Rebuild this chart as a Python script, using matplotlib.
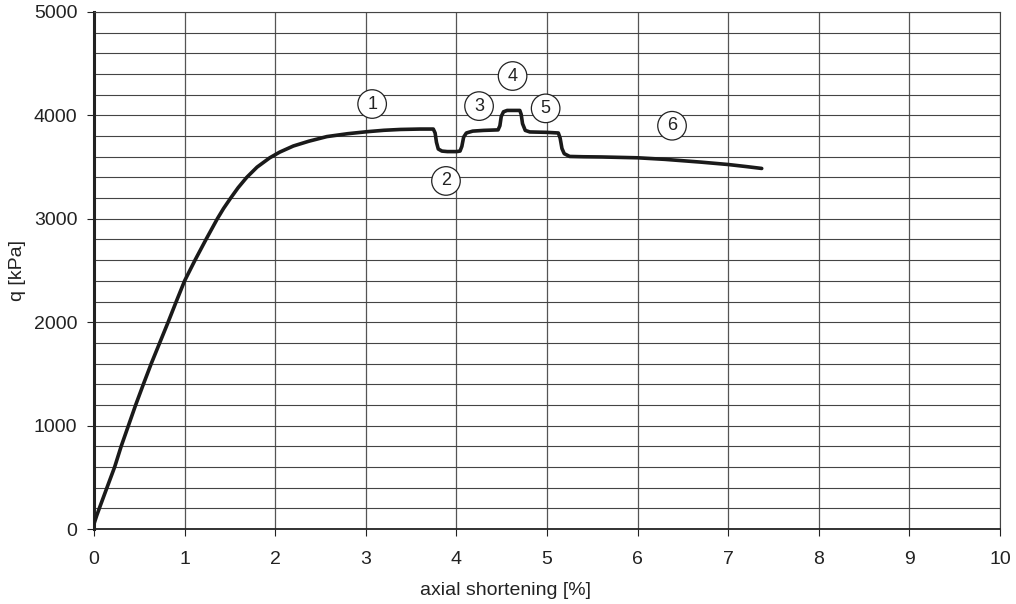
import matplotlib
matplotlib.use("Agg")
import matplotlib.pyplot as plt
import numpy as np

# curve data
strain = [0.0, 0.03, 0.063, 0.147, 0.228, 0.30, 0.38, 0.46, 0.545, 0.632, 0.725,
          0.818, 0.908, 1.0, 1.115, 1.236, 1.361, 1.43, 1.508, 1.59, 1.685,
          1.80, 1.94, 2.05, 2.2, 2.37, 2.57, 2.8, 3.01, 3.2, 3.38, 3.6, 3.745,
          3.765, 3.78, 3.80, 3.84, 3.9, 4.0, 4.04, 4.06, 4.08, 4.11, 4.18,
          4.3, 4.46, 4.48, 4.495, 4.52, 4.56, 4.70, 4.715, 4.73, 4.76, 4.81,
          5.0, 5.125, 5.145, 5.165, 5.19, 5.25, 5.4, 5.6, 6.0, 6.3, 6.7,
          7.0, 7.2, 7.37]
q = [50, 130, 210, 409, 600, 800, 1000, 1200, 1400, 1600, 1800,
     2000, 2200, 2400, 2600, 2800, 3000, 3100, 3200, 3300, 3400,
     3500, 3590, 3645, 3704, 3750, 3795, 3823, 3842, 3856, 3864, 3868, 3868,
     3830, 3740, 3675, 3655, 3650, 3650, 3655, 3700, 3790, 3830, 3848,
     3855, 3860, 3900, 3990, 4035, 4048, 4048, 4010, 3920, 3855, 3840,
     3836, 3830, 3780, 3680, 3630, 3603, 3600, 3598, 3590, 3575, 3548,
     3525, 3505, 3487]

labels = ["1", "2", "3", "4", "5", "6"]
label_x = [3.07, 3.885, 4.25, 4.62, 4.985, 6.38]
label_y = [4110, 3366, 4090, 4381, 4068, 3900]

xticks = list(range(0, 11))
yticks = [0, 1000, 2000, 3000, 4000, 5000]

plt.rcParams['font.family'] = ['Liberation Sans', 'DejaVu Sans']

fig = plt.figure(figsize=(10.16, 6.04), dpi=100)
ax = fig.add_axes([94/1016, 75/604, 906/1016, 517/604])

ax.set_xlim(0, 10)
ax.set_ylim(0, 5000)
ax.set_xticks(xticks)
ax.set_yticks(yticks)
ax.set_yticks(np.arange(0, 5001, 200), minor=True)
ax.tick_params(axis='y', which='minor', length=0)
ax.tick_params(axis='both', which='major', direction='out', length=5, width=0.8,
               labelsize=14, colors='#222222')
ax.tick_params(axis='x', which='major', pad=11)
ax.tick_params(axis='y', which='major', pad=7)
ax.grid(True, which='major', axis='x', color='#555555', linewidth=0.9)
ax.grid(True, which='both', axis='y', color='#444444', linewidth=0.8)
ax.set_axisbelow(True)

for s in ['top', 'right']:
    ax.spines[s].set_color('#444444')
    ax.spines[s].set_linewidth(0.8)
ax.spines['left'].set_linewidth(2.2)
ax.spines['left'].set_color('#222222')
ax.spines['bottom'].set_linewidth(1.3)
ax.spines['bottom'].set_color('#222222')

ax.plot(strain, q, color='#1a1a1a', linewidth=2.6, solid_joinstyle='round',
        solid_capstyle='round', zorder=3)

for t, x, y in zip(labels, label_x, label_y):
    ax.text(x, y, t, ha='center', va='center', fontsize=13, color='#222222',
            bbox=dict(boxstyle='circle,pad=0.32', fc='white', ec='#222222', lw=0.9),
            zorder=4)

ax.set_xlabel('axial shortening [%]', fontsize=14, color='#222222', va='center')
ax.xaxis.set_label_coords(0.454, -0.118)
ax.set_ylabel('q [kPa]', fontsize=14, color='#222222', va='center')
ax.yaxis.set_label_coords(-0.084, 0.5)

fig.savefig('out.png', dpi=100)
